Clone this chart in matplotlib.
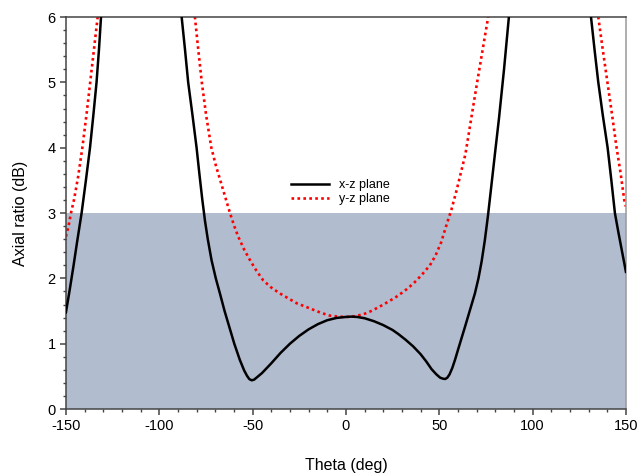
import numpy as np
import matplotlib
matplotlib.use("Agg")
import matplotlib.pyplot as plt
from matplotlib.ticker import MultipleLocator

plt.rcParams['font.family'] = ['Liberation Sans', 'DejaVu Sans']
plt.rcParams['axes.unicode_minus'] = False

# axial ratio vs theta, x-z plane (values above 6 dB leave the plot)
theta_xz = [-150, -148, -146, -144, -141.6, -139.3, -137.1, -135.3, -133.6, -132.3, -131.2,
            -110,
            -88.0, -86.2, -84.5, -82.2, -80.0, -78.5, -77.0, -75.5, -74.0, -72.0, -69.7,
            -67.5, -65, -62.5, -59.8, -56.8, -54.5, -53, -51.8, -50.5, -49.2, -47.5, -45,
            -40, -35, -30, -25, -20, -15, -10, -5, 0, 3, 6, 10, 15, 20, 25, 28, 32, 36, 40,
            43, 45.9, 48.5, 50.5, 52, 53.2, 54.3, 55.5, 57, 58.4, 60.5, 63.8, 66.5, 69.1,
            71.0, 72.7, 74.4, 76.1, 78.0, 80.0, 82.0, 84.7, 87.3,
            110,
            131.3, 133.2, 135.2, 137.6, 140.2, 142.2, 144.1, 146, 148, 150]
ar_xz = [1.48, 1.82, 2.18, 2.56, 3.0, 3.5, 4.0, 4.5, 5.0, 5.5, 6.0,
         12,
         6.0, 5.5, 5.0, 4.5, 4.0, 3.6, 3.22, 2.88, 2.6, 2.28, 2.0,
         1.77, 1.50, 1.26, 1.0, 0.75, 0.59, 0.51, 0.46, 0.44, 0.45, 0.49, 0.55,
         0.70, 0.86, 1.0, 1.12, 1.22, 1.30, 1.36, 1.395, 1.41, 1.415, 1.41, 1.39, 1.345, 1.285, 1.21, 1.15, 1.06, 0.96, 0.84,
         0.73, 0.61, 0.53, 0.48, 0.465, 0.46, 0.48, 0.53, 0.63, 0.75, 0.95, 1.26, 1.52, 1.77,
         2.0, 2.26, 2.58, 2.96, 3.44, 3.95, 4.45, 5.2, 6.0,
         12,
         6.0, 5.5, 5.0, 4.5, 4.0, 3.5, 3.0, 2.7, 2.4, 2.1]

# y-z plane
theta_yz = [-150, -148.6, -147.3, -145.7, -143.5, -141.2, -139, -137, -135, -133.0,
            -110,
            -80.9, -79.1, -77.2, -74.9, -72.1, -69.6, -67.0, -64.5, -62.1, -59.8, -57.7,
            -54.5, -51.4, -48, -44.3, -40, -35.4, -30, -26.4, -21, -17.5, -13, -8.6, -4,
            0.4, 4.5, 9.3, 13.5, 18.2, 22.5, 27.1, 31.5, 36.1, 40.5, 45.0, 48, 51, 54,
            56.5, 59.3, 64.0, 70.0, 76.2,
            110,
            135.2, 137.6, 140.1, 142.6, 145.0, 147.2, 149.1, 150]
ar_yz = [2.64, 2.8, 3.0, 3.2, 3.55, 4.0, 4.5, 5.0, 5.5, 6.0,
         15,
         6.0, 5.5, 5.0, 4.5, 4.0, 3.72, 3.47, 3.23, 3.0, 2.8, 2.64,
         2.44, 2.28, 2.12, 1.97, 1.86, 1.77, 1.68, 1.62, 1.56, 1.52, 1.47, 1.43, 1.415,
         1.41, 1.42, 1.45, 1.50, 1.57, 1.64, 1.72, 1.81, 1.92, 2.05, 2.2, 2.35, 2.55, 2.83,
         3.05, 3.35, 3.9, 4.95, 6.0,
         15,
         6.0, 5.5, 5.0, 4.5, 4.0, 3.6, 3.2, 3.1]

fig = plt.figure(figsize=(6.4, 4.74), dpi=100)
ax = fig.add_axes([0.103, 0.137, 0.875, 0.827])

# 3 dB axial-ratio band
ax.axhspan(0, 3, color='#b1bccf', zorder=0, lw=0)

ax.plot(theta_xz, ar_xz, color='black', lw=1.8, label='x-z plane', zorder=3,
        solid_joinstyle='round')
ax.plot(theta_yz, ar_yz, color='red', lw=1.9, linestyle=(0, (1, 1.25)),
        label='y-z plane', zorder=2)

ax.set_xlim(-150, 150)
ax.set_ylim(0, 6)
ax.xaxis.set_major_locator(MultipleLocator(50))
ax.xaxis.set_minor_locator(MultipleLocator(10))
ax.yaxis.set_major_locator(MultipleLocator(1))
ax.yaxis.set_minor_locator(MultipleLocator(0.2))
ax.tick_params(which='both', direction='out', color='#444444', labelsize=10.5,
               top=False, right=False)
ax.tick_params(which='major', length=4, width=1.1)
ax.tick_params(which='minor', length=2.5, width=1.0)

for side in ['left', 'bottom', 'top']:
    ax.spines[side].set_color('#444444')
    ax.spines[side].set_linewidth(1.1)
ax.spines['right'].set_color('#999999')
ax.spines['right'].set_linewidth(1.1)

ax.set_xlabel('Theta (deg)', fontsize=11.5, labelpad=18)
ax.set_ylabel('Axial ratio (dB)', fontsize=11.5, labelpad=14)

ax.legend(loc='center', bbox_to_anchor=(0.49, 0.553), frameon=False, fontsize=9,
          handlelength=3.0, handletextpad=0.8, labelspacing=0.15)

fig.savefig('out.png', dpi=100)
